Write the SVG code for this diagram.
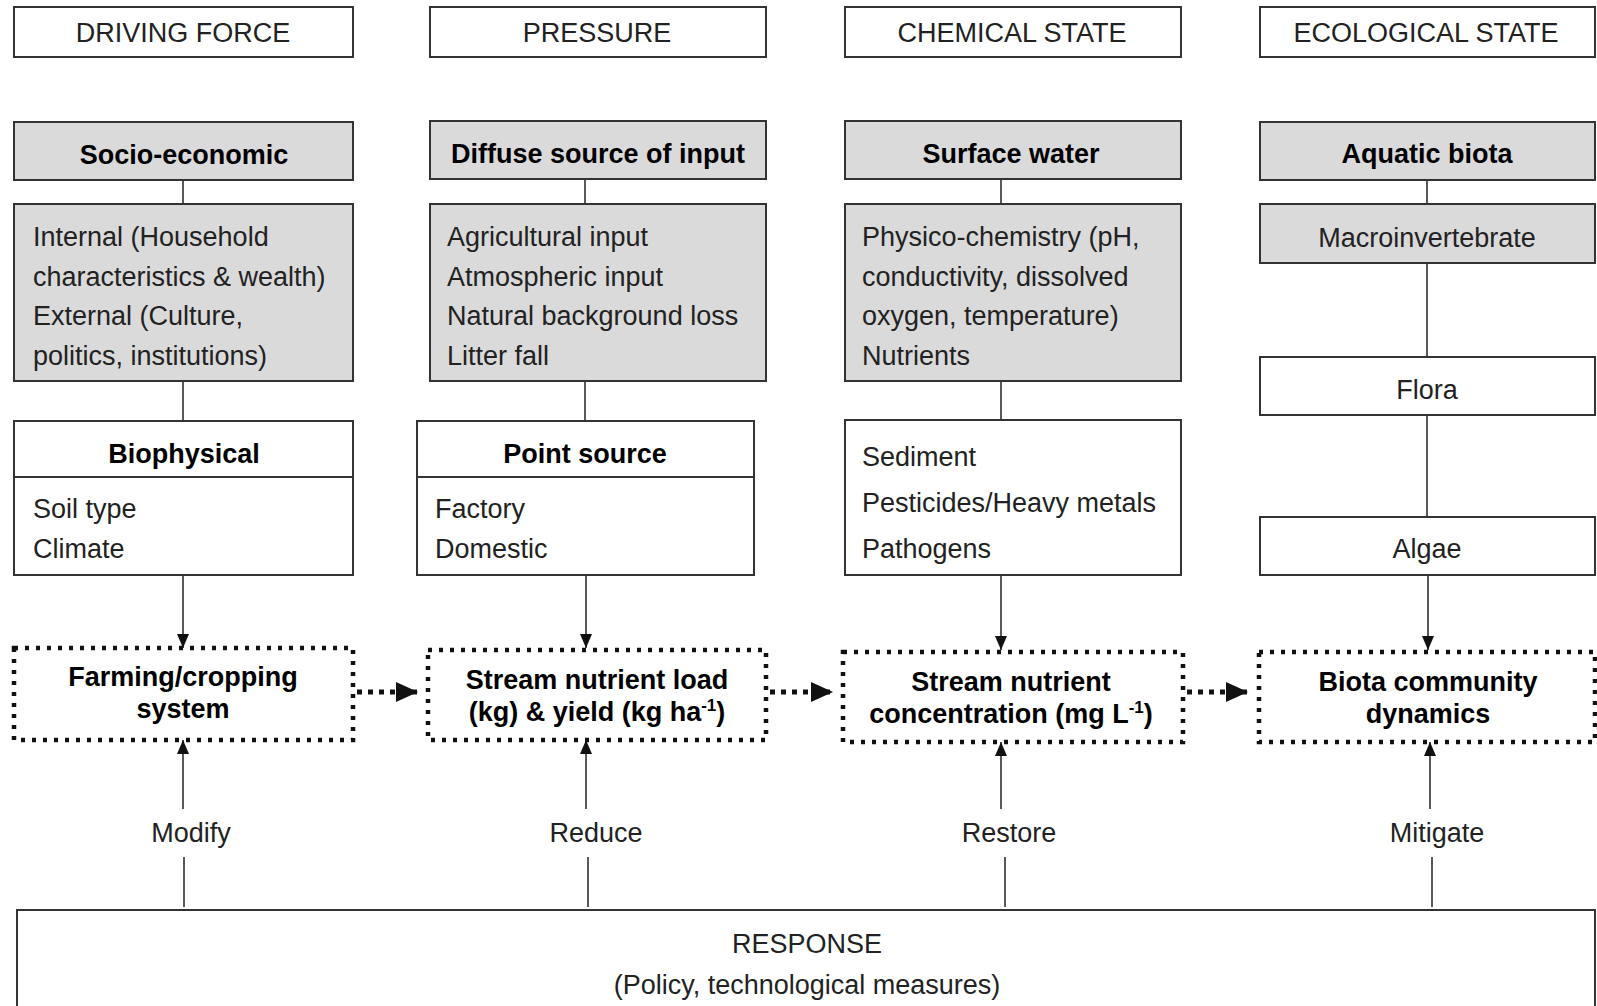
<svg xmlns="http://www.w3.org/2000/svg" width="1597" height="1006" viewBox="0 0 1597 1006">
<defs>
<style>
.box{fill:#fff;stroke:#333;stroke-width:2}
.gray{fill:#dadada;stroke:#333;stroke-width:2}
.dot{fill:#fff;stroke:#111;stroke-width:4.5;stroke-dasharray:4 7}
.t{font-family:"Liberation Sans",Arial,sans-serif;font-size:27px;fill:#222}
.b{font-family:"Liberation Sans",Arial,sans-serif;font-size:27px;font-weight:bold;fill:#000}
.c{text-anchor:middle}
.ln{stroke:#222;stroke-width:1.5;fill:none}
.dl{stroke:#111;stroke-width:5;stroke-dasharray:5 6;fill:none}
.sup{font-size:17px}
</style>
<marker id="ah" markerUnits="userSpaceOnUse" markerWidth="16" markerHeight="12" refX="14" refY="6" orient="auto"><path d="M0,0 L14,6 L0,12 Z" fill="#111"/></marker>
<marker id="ah2" markerUnits="userSpaceOnUse" markerWidth="24" markerHeight="22" refX="22" refY="10" orient="auto"><path d="M0,0 L22,10 L0,20 Z" fill="#111"/></marker>
</defs>

<g id="connectors">
<line class="ln" x1="183" y1="180" x2="183" y2="204"/>
<line class="ln" x1="585" y1="180" x2="585" y2="204"/>
<line class="ln" x1="1001" y1="180" x2="1001" y2="204"/>
<line class="ln" x1="1427" y1="180" x2="1427" y2="204"/>
<line class="ln" x1="183" y1="381" x2="183" y2="421"/>
<line class="ln" x1="585" y1="381" x2="585" y2="421"/>
<line class="ln" x1="1001" y1="381" x2="1001" y2="420"/>
<line class="ln" x1="1427" y1="263" x2="1427" y2="357"/>
<line class="ln" x1="1427" y1="415" x2="1427" y2="517"/>
<line class="ln" x1="183" y1="575" x2="183" y2="648" marker-end="url(#ah)"/>
<line class="ln" x1="586" y1="575" x2="586" y2="648" marker-end="url(#ah)"/>
<line class="ln" x1="1001" y1="575" x2="1001" y2="650" marker-end="url(#ah)"/>
<line class="ln" x1="1428" y1="575" x2="1428" y2="650" marker-end="url(#ah)"/>
<line class="ln" x1="183" y1="809" x2="183" y2="740" marker-end="url(#ah)"/>
<line class="ln" x1="586" y1="809" x2="586" y2="740" marker-end="url(#ah)"/>
<line class="ln" x1="1001" y1="809" x2="1001" y2="742" marker-end="url(#ah)"/>
<line class="ln" x1="1430" y1="809" x2="1430" y2="742" marker-end="url(#ah)"/>
<line class="ln" x1="184" y1="857" x2="184" y2="907"/>
<line class="ln" x1="588" y1="857" x2="588" y2="907"/>
<line class="ln" x1="1005" y1="857" x2="1005" y2="907"/>
<line class="ln" x1="1432" y1="857" x2="1432" y2="907"/>
<line class="dl" x1="357" y1="692" x2="418" y2="692" marker-end="url(#ah2)"/>
<line class="dl" x1="770" y1="692" x2="833" y2="692" marker-end="url(#ah2)"/>
<line class="dl" x1="1187" y1="692" x2="1248" y2="692" marker-end="url(#ah2)"/>
</g>

<g id="hdr-driving"><rect class="box" x="14" y="7" width="339" height="50"/><text class="t c" x="183" y="42">DRIVING FORCE</text></g>
<g id="hdr-pressure"><rect class="box" x="430" y="7" width="336" height="50"/><text class="t c" x="597" y="42">PRESSURE</text></g>
<g id="hdr-chemical"><rect class="box" x="845" y="7" width="336" height="50"/><text class="t c" x="1012" y="42">CHEMICAL STATE</text></g>
<g id="hdr-ecological"><rect class="box" x="1260" y="7" width="335" height="50"/><text class="t c" x="1426" y="42">ECOLOGICAL STATE</text></g>

<g id="socio"><rect class="gray" x="14" y="122" width="339" height="58"/><text class="b c" x="184" y="164">Socio-economic</text></g>
<g id="diffuse"><rect class="gray" x="430" y="121" width="336" height="58"/><text class="b c" x="598" y="163">Diffuse source of input</text></g>
<g id="surface"><rect class="gray" x="845" y="121" width="336" height="58"/><text class="b c" x="1011" y="163">Surface water</text></g>
<g id="aquatic"><rect class="gray" x="1260" y="122" width="335" height="58"/><text class="b c" x="1427" y="163">Aquatic biota</text></g>

<g id="socio-detail"><rect class="gray" x="14" y="204" width="339" height="177"/>
<text class="t" x="33" y="246">Internal (Household</text>
<text class="t" x="33" y="286">characteristics &amp; wealth)</text>
<text class="t" x="33" y="325">External (Culture,</text>
<text class="t" x="33" y="365">politics, institutions)</text></g>
<g id="diffuse-detail"><rect class="gray" x="430" y="204" width="336" height="177"/>
<text class="t" x="447" y="246">Agricultural input</text>
<text class="t" x="447" y="286">Atmospheric input</text>
<text class="t" x="447" y="325">Natural background loss</text>
<text class="t" x="447" y="365">Litter fall</text></g>
<g id="surface-detail"><rect class="gray" x="845" y="204" width="336" height="177"/>
<text class="t" x="862" y="246">Physico-chemistry (pH,</text>
<text class="t" x="862" y="286">conductivity, dissolved</text>
<text class="t" x="862" y="325">oxygen, temperature)</text>
<text class="t" x="862" y="365">Nutrients</text></g>
<g id="macro"><rect class="gray" x="1260" y="204" width="335" height="59"/><text class="t c" x="1427" y="247">Macroinvertebrate</text></g>

<g id="biophysical"><rect class="box" x="14" y="421" width="339" height="154"/><line x1="14" y1="477" x2="353" y2="477" style="stroke:#333;stroke-width:2"/>
<text class="b c" x="184" y="463">Biophysical</text>
<text class="t" x="33" y="518">Soil type</text>
<text class="t" x="33" y="558">Climate</text></g>
<g id="point"><rect class="box" x="417" y="421" width="337" height="154"/><line x1="417" y1="477" x2="754" y2="477" style="stroke:#333;stroke-width:2"/>
<text class="b c" x="585" y="463">Point source</text>
<text class="t" x="435" y="518">Factory</text>
<text class="t" x="435" y="558">Domestic</text></g>
<g id="sediment"><rect class="box" x="845" y="420" width="336" height="155"/>
<text class="t" x="862" y="466">Sediment</text>
<text class="t" x="862" y="512">Pesticides/Heavy metals</text>
<text class="t" x="862" y="558">Pathogens</text></g>
<g id="flora"><rect class="box" x="1260" y="357" width="335" height="58"/><text class="t c" x="1427" y="399">Flora</text></g>
<g id="algae"><rect class="box" x="1260" y="517" width="335" height="58"/><text class="t c" x="1427" y="558">Algae</text></g>

<g id="farming"><rect class="dot" x="14" y="648" width="339" height="92"/>
<text class="b c" x="183" y="686">Farming/cropping</text>
<text class="b c" x="183" y="718">system</text></g>
<g id="load"><rect class="dot" x="428" y="650" width="338" height="90"/>
<text class="b c" x="597" y="689">Stream nutrient load</text>
<text class="b c" x="597" y="721">(kg) &amp; yield (kg ha<tspan class="sup" dy="-10">-1</tspan><tspan dy="10">)</tspan></text></g>
<g id="concentration"><rect class="dot" x="843" y="652" width="340" height="90"/>
<text class="b c" x="1011" y="691">Stream nutrient</text>
<text class="b c" x="1011" y="723">concentration (mg L<tspan class="sup" dy="-10">-1</tspan><tspan dy="10">)</tspan></text></g>
<g id="biota"><rect class="dot" x="1259" y="652" width="336" height="90"/>
<text class="b c" x="1428" y="691">Biota community</text>
<text class="b c" x="1428" y="723">dynamics</text></g>

<g id="labels">
<text class="t c" x="191" y="842">Modify</text>
<text class="t c" x="596" y="842">Reduce</text>
<text class="t c" x="1009" y="842">Restore</text>
<text class="t c" x="1437" y="842">Mitigate</text>
</g>

<g id="response"><rect class="box" x="17" y="910" width="1578" height="110"/>
<text class="t c" x="807" y="953">RESPONSE</text>
<text class="t c" x="807" y="994">(Policy, technological measures)</text></g>
</svg>
